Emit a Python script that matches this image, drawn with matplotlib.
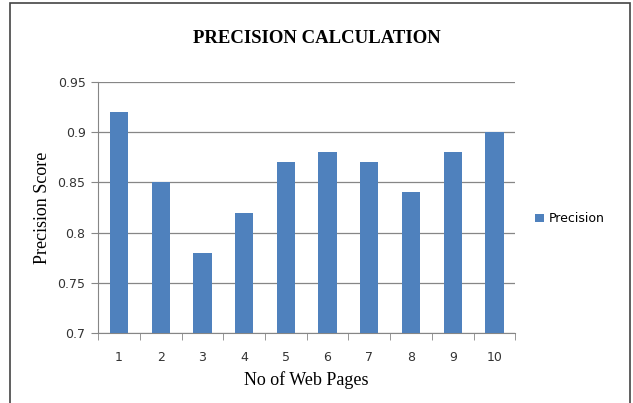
import numpy as np
import matplotlib.pyplot as plt
from matplotlib.patches import Rectangle

pages = [1, 2, 3, 4, 5, 6, 7, 8, 9, 10]
precision = [0.92, 0.85, 0.78, 0.82, 0.87, 0.88, 0.87, 0.84, 0.88, 0.90]
yticks = [0.7, 0.75, 0.8, 0.85, 0.9, 0.95]

fig = plt.figure(figsize=(6.33, 4.03), dpi=100)
ax = fig.add_axes([0.155, 0.1737, 0.659, 0.6228])

ax.bar(pages, precision, width=0.44, color="#4F81BD", label="Precision", zorder=3)

ax.set_xlim(0.5, 10.5)
ax.set_ylim(0.7, 0.95)
ax.set_yticks(yticks)
ax.set_yticklabels(["0.7", "0.75", "0.8", "0.85", "0.9", "0.95"])
ax.set_xticks(pages)
ax.set_xticks(np.arange(0.5, 11, 1), minor=True)
ax.tick_params(axis="x", which="major", length=0, pad=13)
ax.tick_params(axis="x", which="minor", length=5, color="#868686")
ax.tick_params(axis="y", length=5, color="#868686", pad=4)
for lbl in ax.get_xticklabels() + ax.get_yticklabels():
    lbl.set_fontfamily("DejaVu Sans")
    lbl.set_fontsize(9)
    lbl.set_color("#333333")

ax.grid(axis="y", color="#868686", linewidth=0.9, zorder=0)
for s in ["top", "right"]:
    ax.spines[s].set_visible(False)
ax.spines["left"].set_color("#868686")
ax.spines["bottom"].set_color("#868686")

ax.set_xlabel("No of Web Pages", family="Liberation Serif", fontsize=13, labelpad=5)
ax.set_ylabel("Precision Score", family="Liberation Serif", fontsize=13, labelpad=5)
fig.text(0.5, 0.905, "PRECISION CALCULATION", family="Liberation Serif",
         fontsize=13.5, fontweight="bold", ha="center", va="center")

ax.legend(loc="center left", bbox_to_anchor=(1.02, 0.455), frameon=False,
          prop={"family": "DejaVu Sans", "size": 9}, handlelength=0.7,
          handleheight=0.7, handletextpad=0.4)

fig.patches.append(Rectangle((0.0158, -0.01), 0.979, 1.0026, transform=fig.transFigure,
                             fill=False, edgecolor="#444444", linewidth=1.2))

fig.savefig("out.png", dpi=100)
